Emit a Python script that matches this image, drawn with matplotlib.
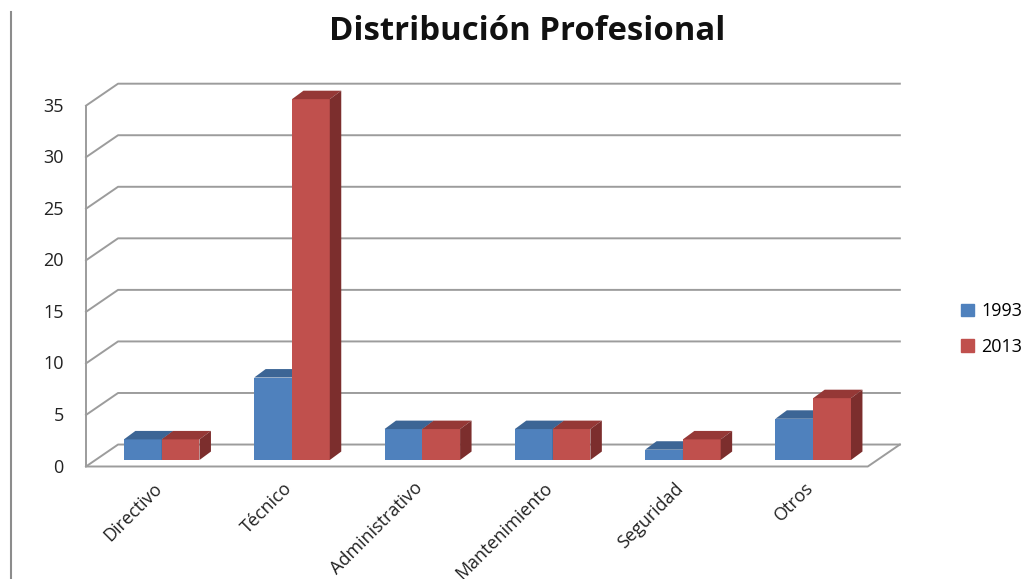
import matplotlib.pyplot as plt
from matplotlib.patches import Polygon, Patch
from matplotlib.lines import Line2D

plt.rcParams['font.family'] = ['Open Sans', 'DejaVu Sans']

categories = ['Directivo', 'Técnico', 'Administrativo', 'Mantenimiento', 'Seguridad', 'Otros']
years = ['1993', '2013']
values_1993 = [2, 8, 3, 3, 1, 4]
values_2013 = [2, 35, 3, 3, 2, 6]
yticks = [0, 5, 10, 15, 20, 25, 30, 35]

front_colors = ['#4F81BD', '#C0504D']
top_colors = ['#3C6595', '#953836']
side_colors = ['#35587F', '#7C2E2D']
grid_color = '#9C9C9C'

# fake 3d geometry (data units: x = category, y = value)
bar_w = 0.29
bar_dx, bar_dy = 0.088, 0.82      # depth of a bar
floor_x0, floor_y0 = -0.581, -0.63  # front-left corner of the floor
wall_dx, wall_dy = 0.246, 2.13      # depth of the floor

fig = plt.figure(figsize=(10.3, 5.79), dpi=100)
ax = fig.add_axes([0, 0, 1, 1])
ax.set_xlim(-161.7 / 130.3, (1030 - 161.7) / 130.3)
ax.set_ylim(-119 / 10.31, 460 / 10.31)
ax.axis('off')

n = len(categories)
fx1 = floor_x0 + n
bx0, by = floor_x0 + wall_dx, floor_y0 + wall_dy
bx1 = fx1 + wall_dx
ymax = yticks[-1]

# walls and gridlines
for v in yticks:
    ax.plot([floor_x0, bx0, bx1], [floor_y0 + v, by + v, by + v], color=grid_color, lw=1.4, zorder=1)
ax.plot([floor_x0, floor_x0], [floor_y0, floor_y0 + ymax], color=grid_color, lw=1.4, zorder=1)
ax.plot([floor_x0, fx1, bx1], [floor_y0, floor_y0, by], color=grid_color, lw=1.4, zorder=1)

# bars
for i in range(n):
    for s, vals in enumerate([values_1993, values_2013]):
        h = vals[i]
        x0 = i - bar_w + s * bar_w
        x1 = x0 + bar_w
        z = 2 + i * 2 + s
        ax.bar(x0, h, width=bar_w, align='edge', color=front_colors[s], zorder=z)
        ax.add_patch(Polygon([(x0, h), (x1, h), (x1 + bar_dx, h + bar_dy), (x0 + bar_dx, h + bar_dy)],
                             closed=True, color=top_colors[s], lw=0, zorder=z))
        ax.add_patch(Polygon([(x1, 0), (x1 + bar_dx, bar_dy), (x1 + bar_dx, h + bar_dy), (x1, h)],
                             closed=True, color=side_colors[s], lw=0, zorder=z))

# tick labels
for v in yticks:
    ax.text(floor_x0 - 0.17, floor_y0 + v - 0.1, str(v), ha='right', va='center', fontsize=13, color='#222222')

for i, c in enumerate(categories):
    ax.text(i - 0.07, -1.85, c, rotation=45, rotation_mode='anchor', ha='right', va='top',
            fontsize=13, color='#222222')

fig.text(527 / 1030, 1 - 31 / 579, 'Distribución Profesional', ha='center', va='center',
         fontsize=23.7, fontweight='bold', color='#111111')

handles = [Patch(color=front_colors[0]), Patch(color=front_colors[1])]
fig.legend(handles, years, loc='center left', bbox_to_anchor=(945 / 1030, 1 - 329 / 579), frameon=False,
           fontsize=13, handlelength=0.7, handleheight=0.7, handletextpad=0.4, labelspacing=0.95)

fig.add_artist(Line2D([11 / 1030, 11 / 1030], [0, 1 - 12 / 579], color='#8C8C8C', lw=1.5))

fig.savefig('out.png', dpi=100)
